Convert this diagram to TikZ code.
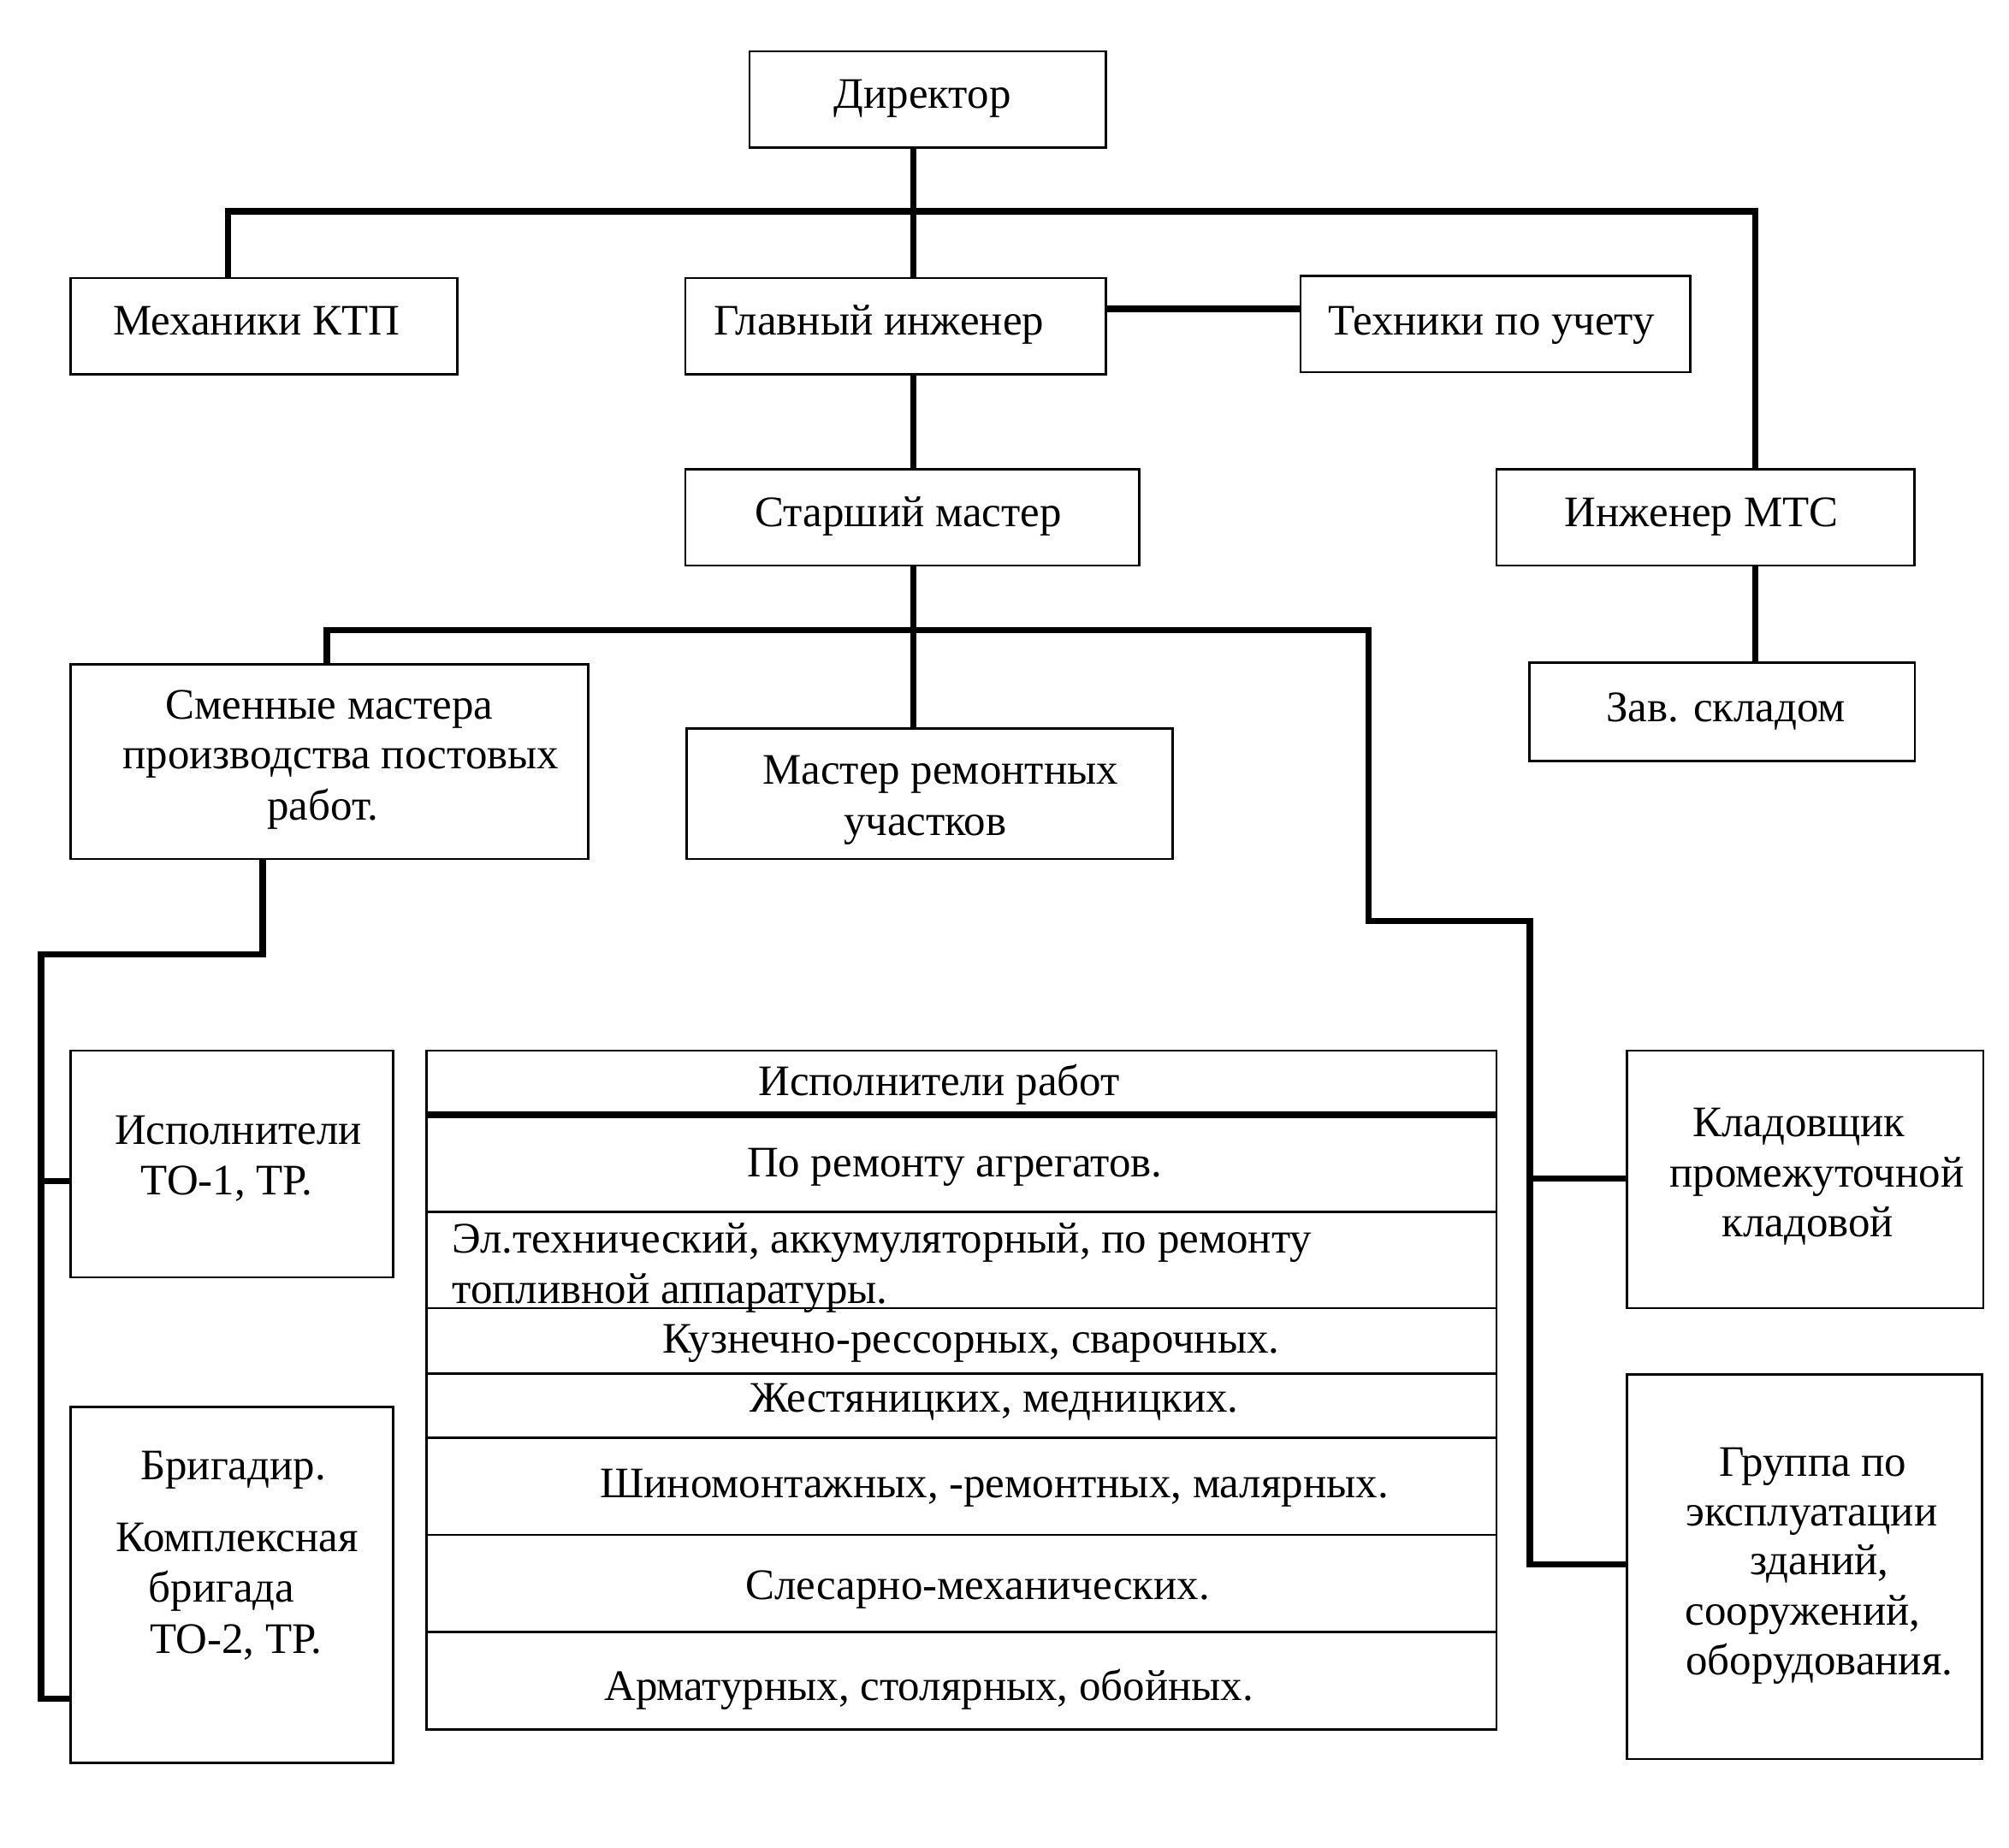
\documentclass[tikz,border=0pt]{standalone}
\usepackage{fontspec}
\setmainfont{Liberation Serif}
\begin{document}
\begin{tikzpicture}[x=1pt,y=-1pt]
\tikzset{
  box/.style={draw, line width=1.8pt, inner sep=0pt, outer sep=0pt, rectangle},
  conn/.style={line width=5pt, line join=miter},
  txt/.style={inner sep=0pt, outer sep=0pt, font=\fontsize{34}{40}\selectfont, text height=24pt, text depth=3.5pt},
  rowline/.style={line width=1.8pt},
  headline/.style={line width=5pt}
}
\useasboundingbox (0,0) rectangle (1568,1442);

% boxes
\node[box, minimum width=278pt, minimum height=75pt] (dir) at (724,77.5) {};
\node[box, minimum width=302pt, minimum height=75pt] (mek) at (206,254.5) {};
\node[box, minimum width=328pt, minimum height=75pt] (glav) at (699,254.5) {};
\node[box, minimum width=304pt, minimum height=75pt] (tekh) at (1167,253) {};
\node[box, minimum width=354pt, minimum height=75pt] (star) at (712,404) {};
\node[box, minimum width=326pt, minimum height=75pt] (ing) at (1331,404) {};
\node[box, minimum width=301pt, minimum height=77pt] (zav) at (1344,555.5) {};
\node[box, minimum width=404pt, minimum height=152pt] (smen) at (257,594.5) {};
\node[box, minimum width=379pt, minimum height=102pt] (mrem) at (725.5,619.5) {};
\node[box, minimum width=252pt, minimum height=177pt] (isp) at (181,908.5) {};
\node[box, minimum width=252pt, minimum height=278pt] (brig) at (181,1237) {};
\node[box, minimum width=835pt, minimum height=530pt] (tbl) at (750.5,1085) {};
\node[box, minimum width=278pt, minimum height=201pt] (klad) at (1409,920.5) {};
\node[box, minimum width=277pt, minimum height=300pt] (grp) at (1408.5,1223) {};

% texts
\node[txt] (tdir) at (720,74) {Директор};
\node[txt] (tmek) at (200,251) {Механики КТП};
\node[txt] (tglav) at (686,251) {Главный инженер};
\node[txt] (ttekh) at (1164,251) {Техники по учету};
\node[txt] (tstar) at (709,401) {Старший мастер};
\node[txt] (ting) at (1328,401) {Инженер МТС};
\node[txt] (tzav) at (1347,553) {Зав. складом};
\node[txt] (ts1) at (257,551) {Сменные мастера};
\node[txt] (ts2) at (266,590) {производства постовых};
\node[txt] (ts3) at (252,630) {работ.};
\node[txt] (tm1) at (734,602) {Мастер ремонтных};
\node[txt] (tm2) at (722,642) {участков};
\node[txt] (ti1) at (186,883) {Исполнители};
\node[txt] (ti2) at (177,922) {ТО-1, ТР.};
\node[txt] (tb1) at (182,1145) {Бригадир.};
\node[txt] (tb2) at (185,1201) {Комплексная};
\node[txt, anchor=west] (tb3) at (116,1240) {бригада};
\node[txt] (tb4) at (184,1280) {ТО-2, ТР.};
\node[txt] (tk1) at (1404,877) {Кладовщик};
\node[txt] (tk2) at (1418,916) {промежуточной};
\node[txt] (tk3) at (1411,955) {кладовой};
\node[txt] (tg1) at (1415,1142) {Группа по};
\node[txt] (tg2) at (1414,1181) {эксплуатации};
\node[txt] (tg3) at (1420,1219) {зданий,};
\node[txt] (tg4) at (1407,1258) {сооружений,};
\node[txt] (tg5) at (1420,1297) {оборудования.};

% table rows
\coordinate (h0) at (0,870);
\coordinate (r1) at (0,946);
\coordinate (r2) at (0,1021);
\coordinate (r3) at (0,1072);
\coordinate (r4) at (0,1122);
\coordinate (r5) at (0,1198);
\coordinate (r6) at (0,1274);
\draw[headline] (tbl.west |- h0) -- (tbl.east |- h0);
\foreach \r in {r1,r2,r3,r4,r5,r6} \draw[rowline] (tbl.west |- \r) -- (tbl.east |- \r);

\node[txt] (x0) at (733,845) {Исполнители работ};
\node[txt] (x1) at (745,908) {По ремонту агрегатов.};
\node[txt, anchor=west] (x2a) at (353,968) {Эл.технический, аккумуляторный, по ремонту};
\node[txt, anchor=west] (x2b) at (353,1007) {топливной аппаратуры.};
\node[txt] (x3) at (758,1046) {Кузнечно-рессорных, сварочных.};
\node[txt] (x4) at (776,1092) {Жестяницких, медницких.};
\node[txt] (x5) at (776,1159) {Шиномонтажных, -ремонтных, малярных.};
\node[txt] (x6) at (763,1238) {Слесарно-механических.};
\node[txt] (x7) at (725,1317) {Арматурных, столярных, обойных.};

% connectors
\coordinate (j1) at (713,165);
\coordinate (j2) at (178,165);
\coordinate (j3) at (1370,165);
\draw[conn] (j1 |- dir.south) -- (j1 |- glav.north);
\draw[conn] (j2 |- mek.north) -- (j2) -- (j3) -- (j3 |- ing.north);
\coordinate (t1) at (0,241);
\draw[conn] (glav.east |- t1) -- (tekh.west |- t1);
\draw[conn] (j1 |- glav.south) -- (j1 |- star.north);
\draw[conn] (j1 |- star.south) -- (j1 |- mrem.north);
\draw[conn] (j3 |- ing.south) -- (j3 |- zav.north);

\coordinate (k1) at (255,492);
\coordinate (k2) at (1068,492);
\coordinate (k3) at (1068,719);
\coordinate (k4) at (1194,719);
\coordinate (k5) at (1194,1221);
\coordinate (k6) at (1194,920);
\draw[conn] (k1 |- smen.north) -- (k1) -- (k2) -- (k3) -- (k4) -- (k5) -- (grp.west |- k5);
\draw[conn] (k6) -- (klad.west |- k6);

\coordinate (m1) at (205,745);
\coordinate (m2) at (32,745);
\coordinate (m3) at (32,1326);
\coordinate (m4) at (32,922);
\draw[conn] (m1 |- smen.south) -- (m1) -- (m2) -- (m3) -- (brig.west |- m3);
\draw[conn] (m4) -- (isp.west |- m4);
\end{tikzpicture}
\end{document}
